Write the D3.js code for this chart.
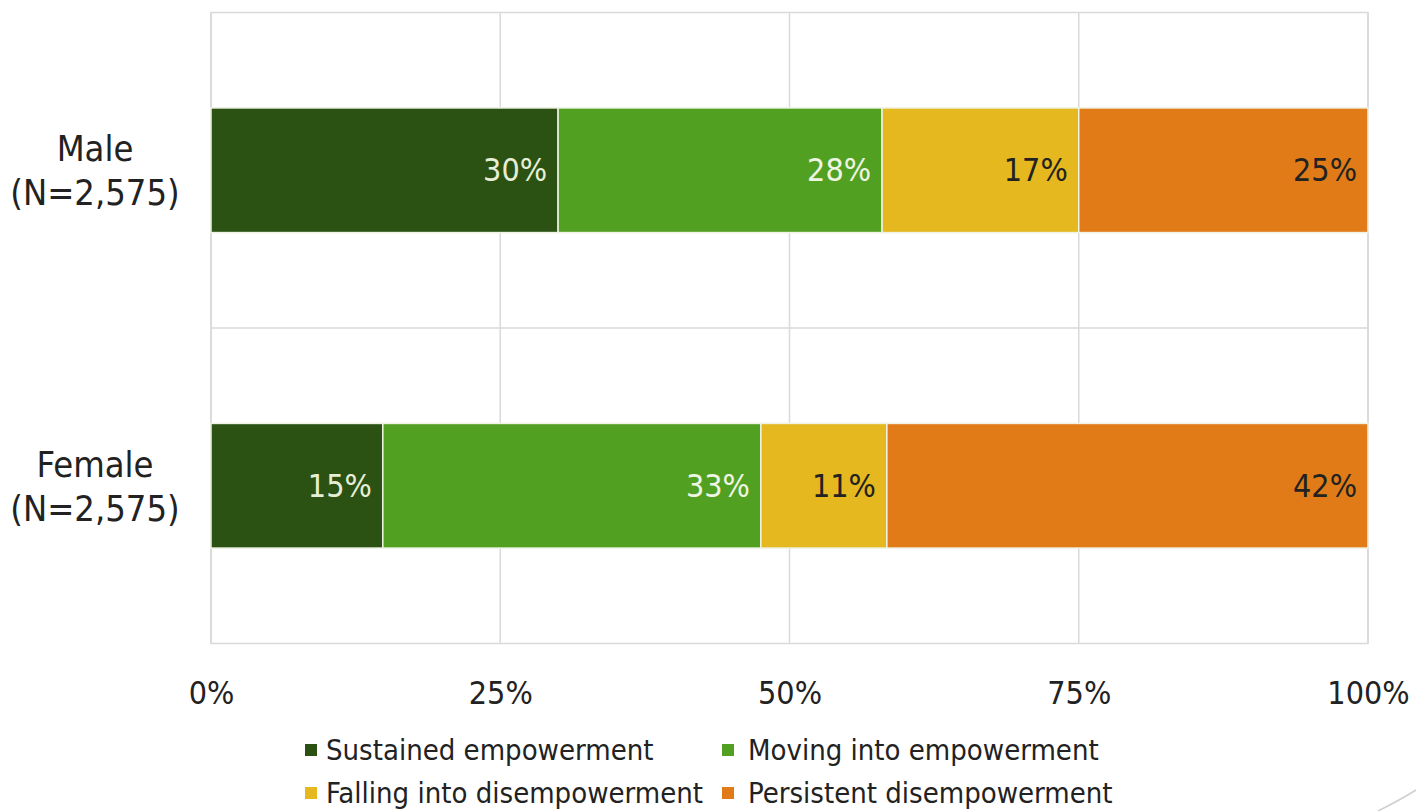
<!DOCTYPE html>
<html>
<head>
<meta charset="utf-8">
<script src="https://cdn.jsdelivr.net/npm/d3@7"></script>
<style>
  html, body { margin: 0; padding: 0; background: #ffffff; }
  svg { display: block; }
  text { font-family: "DejaVu Sans Condensed", "Liberation Sans Narrow", "DejaVu Sans", sans-serif; font-stretch: condensed; }
</style>
</head>
<body>
<svg id="chart" width="1416" height="811"></svg>
<script>
// Groups and their sample sizes
const groups = ["Male", "Female"];
const groupSizes = ["(N=2,575)", "(N=2,575)"];

// Empowerment trajectory categories
const seriesNames = [
  "Sustained empowerment",
  "Moving into empowerment",
  "Falling into disempowerment",
  "Persistent disempowerment"
];

// Percent of each group in each category (Male, Female)
const sustained = [30, 15];
const movingInto = [28, 33];
const fallingInto = [17, 11];
const persistent = [25, 42];

const tickValues = [0, 0.25, 0.5, 0.75, 1];
const tickLabels = ["0%", "25%", "50%", "75%", "100%"];

const colors = ["#2b5113", "#52a022", "#e5b81f", "#e07b18"];
const labelColors = ["#e6efd6", "#eef5e2", "#222222", "#222222"];

const rows = groups.map((g, i) => ({
  group: g,
  [seriesNames[0]]: sustained[i],
  [seriesNames[1]]: movingInto[i],
  [seriesNames[2]]: fallingInto[i],
  [seriesNames[3]]: persistent[i]
}));

const svg = d3.select("#chart");
const margin = { left: 211, right: 48, top: 12.5, bottom: 167.5 };
const W = 1416, H = 811;
const plotW = W - margin.left - margin.right;
const plotH = H - margin.top - margin.bottom;

const x = d3.scaleLinear().domain([0, 1]).range([margin.left, margin.left + plotW]);
const y = d3.scaleBand().domain(groups).range([margin.top, margin.top + plotH]).paddingInner(0).paddingOuter(0);
const barH = y.bandwidth() * 0.395;

// 100% stacked layout: each row normalised to its total
const stack = d3.stack().keys(seriesNames).offset(d3.stackOffsetExpand);
const layers = stack(rows);

// Plot frame
svg.append("rect")
  .attr("x", margin.left).attr("y", margin.top)
  .attr("width", plotW).attr("height", plotH)
  .attr("fill", "none").attr("stroke", "#d9d9d9").attr("stroke-width", 1.5);

// Vertical gridlines
svg.append("g").selectAll("line")
  .data(tickValues)
  .join("line")
  .attr("x1", d => x(d)).attr("x2", d => x(d))
  .attr("y1", margin.top).attr("y2", margin.top + plotH)
  .attr("stroke", "#d9d9d9").attr("stroke-width", 1.5);

// Horizontal line between the two groups
svg.append("line")
  .attr("x1", margin.left).attr("x2", margin.left + plotW)
  .attr("y1", y(groups[1])).attr("y2", y(groups[1]))
  .attr("stroke", "#d9d9d9").attr("stroke-width", 1.5);

// Bars
const layerG = svg.append("g").selectAll("g")
  .data(layers)
  .join("g")
  .attr("fill", (d, i) => colors[i]);

layerG.selectAll("rect")
  .data(d => d)
  .join("rect")
  .attr("x", d => x(d[0]))
  .attr("y", d => y(d.data.group) + (y.bandwidth() - barH) / 2)
  .attr("width", d => x(d[1]) - x(d[0]))
  .attr("height", barH)
  .attr("stroke", "#eef3e4")
  .attr("stroke-width", 1.5);

// Value labels, inside the end of each segment
svg.append("g").selectAll("g")
  .data(layers)
  .join("g")
  .attr("fill", (d, i) => labelColors[i])
  .selectAll("text")
  .data(d => d.map(v => ({ v, key: d.key })))
  .join("text")
  .attr("x", d => x(d.v[1]) - 11)
  .attr("y", d => y(d.v.data.group) + y.bandwidth() / 2)
  .attr("dy", "0.35em")
  .attr("text-anchor", "end")
  .attr("font-size", 32)
  .text(d => d.v.data[d.key] + "%");

// X axis tick labels
const xAxis = d3.axisBottom(x).tickValues(tickValues).tickFormat((d, i) => tickLabels[i]).tickSize(0).tickPadding(0);
const axisG = svg.append("g")
  .attr("transform", `translate(0, ${margin.top + plotH + 36})`)
  .call(xAxis);
axisG.select(".domain").remove();
axisG.selectAll("text")
  .attr("font-size", 32)
  .attr("fill", "#222222")
  .attr("font-family", null)
  .attr("dy", "0.35em")
  .attr("y", 13);

// Group labels
const catG = svg.append("g").selectAll("text")
  .data(groups)
  .join("text")
  .attr("text-anchor", "middle")
  .attr("font-size", 36)
  .attr("fill", "#222222")
  .attr("x", 95)
  .attr("y", d => y(d) + y.bandwidth() / 2);
catG.append("tspan").attr("x", 95).attr("dy", -9).text(d => d);
catG.append("tspan").attr("x", 95).attr("dy", 44).text((d, i) => groupSizes[i]);

// Legend (two rows of two)
const legendPos = [
  { x: 305, y: 750 }, { x: 722, y: 750 },
  { x: 305, y: 793 }, { x: 722, y: 793 }
];
const legend = svg.append("g").selectAll("g")
  .data(seriesNames)
  .join("g")
  .attr("transform", (d, i) => `translate(${legendPos[i].x}, ${legendPos[i].y})`);
legend.append("rect")
  .attr("x", 0).attr("y", -6).attr("width", 12).attr("height", 12)
  .attr("fill", (d, i) => colors[i]);
legend.append("text")
  .attr("x", (d, i) => i % 2 === 0 ? 21 : 26).attr("dy", "0.35em")
  .attr("font-size", 29)
  .attr("fill", "#222222")
  .text(d => d);

// Faint decorative corner stroke
svg.append("path")
  .attr("d", "M1378,811 Q1400,800 1416,790")
  .attr("fill", "none").attr("stroke", "#cfcfcf").attr("stroke-width", 1.5);
</script>
</body>
</html>
